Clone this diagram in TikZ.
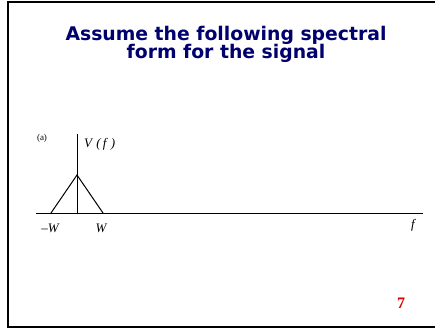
\documentclass[tikz,border=0pt]{standalone}
\usepackage{fontspec}
\setmainfont{Liberation Serif}
\newfontfamily\titlefont{DejaVu Sans}
\usepackage{tikz}
\usetikzlibrary{positioning}
\definecolor{titleblue}{RGB}{0,0,110}
\definecolor{pagered}{RGB}{220,0,0}
\tikzstyle{title} = [font=\titlefont\bfseries\fontsize{18.8}{19}\selectfont, text=titleblue, align=center]
\tikzstyle{axislabel} = [font=\itshape\fontsize{13}{14}\selectfont, inner sep=0pt]
\tikzstyle{axis} = [line width=1pt]
\tikzstyle{spectrum} = [line width=1pt]

\begin{document}
\begin{tikzpicture}[x=1pt, y=-1pt]
  \useasboundingbox (0,0) rectangle (435,329);
  \begin{scope}
    \clip (0,0) rectangle (435,329);
    \draw[line width=2pt] (8,2.5) rectangle (445,327);
  \end{scope}

  \node (heading) [title] at (226,44) {Assume the following spectral\\[-1pt]form for the signal};

  % axes
  \coordinate (origin) at (77,213);
  \coordinate (xstart) at (36,213);
  \coordinate (xend) at (423,213);
  \coordinate (ytop) at (77,134);
  \draw[axis] (xstart) -- (xend);
  \draw[axis] (origin) -- (ytop);

  % triangular spectrum
  \coordinate (peak) at (77,175);
  \coordinate (lowedge) at (51,213);
  \coordinate (highedge) at (103,213);
  \draw[spectrum] (lowedge) -- (peak) -- (highedge);

  \node (part) [font=\fontsize{9}{10}\selectfont, inner sep=0pt] at (42,138) {(a)};
  \node (vf) [axislabel, anchor=west] at (84,144) {V\,\,(\,f\,\,)};
  \node (minusw) [axislabel] at (50,228) {\textup{--}W};
  \node (plusw) [axislabel] at (101,228) {W};
  \node (freq) [axislabel] at (413,225) {f};
  \node (pagenum) [font=\bfseries\fontsize{16}{17}\selectfont, text=pagered] at (401,303) {7};
\end{tikzpicture}
\end{document}
